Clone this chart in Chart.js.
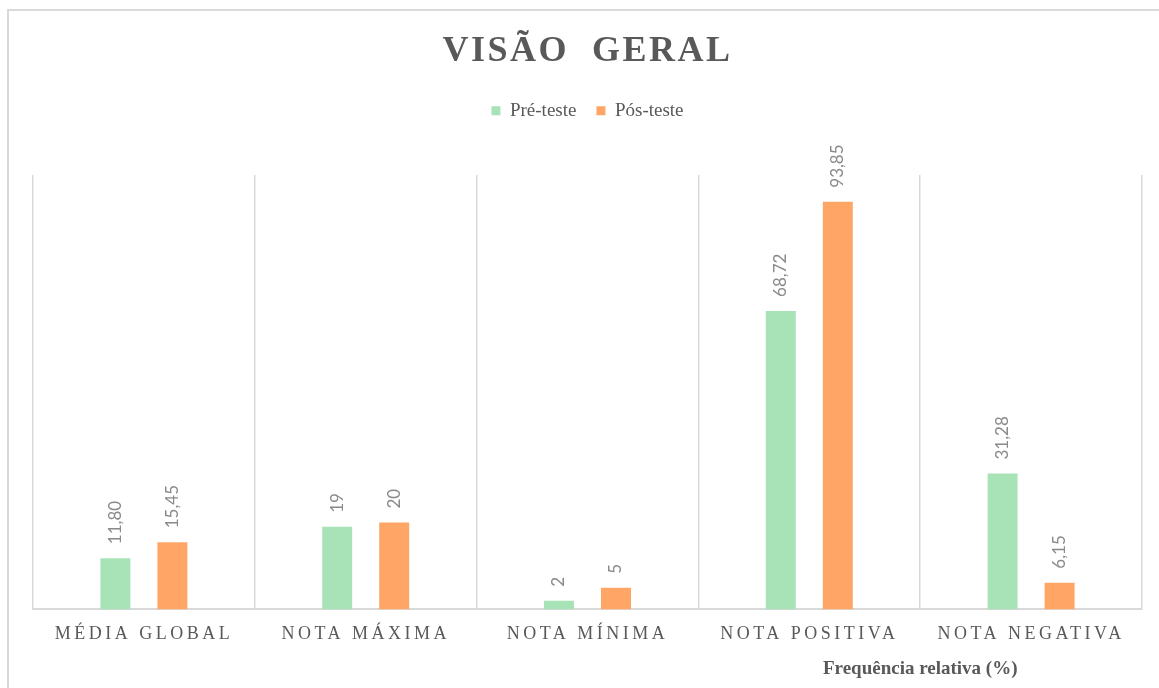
<!DOCTYPE html>
<html>
<head>
<meta charset="utf-8">
<script src="https://cdn.jsdelivr.net/npm/chart.js@4.4.1/dist/chart.umd.min.js"></script>
<style>
  html, body { margin: 0; padding: 0; background: #ffffff; overflow: hidden; }
  #frame { position: absolute; left: 7px; top: 9px; width: 1160px; height: 690px;
           border-left: 2px solid #d9d9d9; border-top: 2px solid #d9d9d9; }
  #c { display: block; }
</style>
</head>
<body>
<div id="frame"><canvas id="c" width="1158" height="677"></canvas></div>
<script>
// ---- data ----
const categories = ["MÉDIA GLOBAL", "NOTA MÁXIMA", "NOTA MÍNIMA", "NOTA POSITIVA", "NOTA NEGATIVA"];
const preTeste = [11.80, 19, 2, 68.72, 31.28];
const posTeste = [15.45, 20, 5, 93.85, 6.15];
const seriesNames = ["Pré-teste", "Pós-teste"];
const chartTitle = "VISÃO  GERAL";
const axisTitle = "Frequência relativa (%)";

const GREEN = '#A8E3B8';
const ORANGE = '#FFA666';
const TEXT = '#595959';

function fmt(v) {
  const s = Number.isInteger(v) ? String(v) : v.toFixed(2);
  return s.replace('.', ',');
}

const spacingPlugin = {
  id: 'spacing',
  beforeDraw(chart) {
    const wrap = (obj, method, sp) => {
      if (!obj || obj['_wrapped_' + method]) return;
      const orig = obj[method];
      obj[method] = function (...args) {
        const ctx = chart.ctx;
        const prev = ctx.letterSpacing;
        ctx.letterSpacing = sp;
        const r = orig.apply(this, args);
        ctx.letterSpacing = prev;
        return r;
      };
      obj['_wrapped_' + method] = true;
    };
    wrap(chart.scales.x, 'drawLabels', '3.5px');
    wrap(chart.titleBlock, 'draw', '2.5px');
  }
};

const dataLabelPlugin = {
  id: 'dataLabels',
  afterDatasetsDraw(chart) {
    const ctx = chart.ctx;
    chart.data.datasets.forEach((ds, di) => {
      const meta = chart.getDatasetMeta(di);
      meta.data.forEach((bar, i) => {
        ctx.save();
        ctx.translate(bar.x, bar.y - 14);
        ctx.rotate(-Math.PI / 2);
        ctx.font = '17px Lato';
        ctx.fillStyle = '#8a8a8a';
        ctx.textAlign = 'left';
        ctx.textBaseline = 'middle';
        ctx.fillText(fmt(ds.data[i]), 0, 0);
        ctx.restore();
      });
    });
  }
};

const axisTitlePlugin = {
  id: 'axisTitle',
  afterDraw(chart) {
    const x = chart.scales.x;
    const ctx = chart.ctx;
    ctx.save();
    ctx.font = 'bold 19px "Liberation Serif"';
    ctx.fillStyle = TEXT;
    ctx.textAlign = 'center';
    ctx.textBaseline = 'middle';
    ctx.fillText(axisTitle, x.getPixelForValue(3.5), x.bottom + 10);
    ctx.restore();
  }
};

new Chart(document.getElementById('c'), {
  type: 'bar',
  data: {
    labels: categories,
    datasets: [
      { label: seriesNames[0], data: preTeste, backgroundColor: GREEN,
        categoryPercentage: 0.514, barPercentage: 0.526 },
      { label: seriesNames[1], data: posTeste, backgroundColor: ORANGE,
        categoryPercentage: 0.514, barPercentage: 0.526 }
    ]
  },
  options: {
    responsive: false,
    animation: false,
    layout: { padding: { left: 24, right: 25, top: 0, bottom: 29 } },
    plugins: {
      title: {
        display: true, text: chartTitle, color: TEXT,
        font: { family: '"Liberation Serif"', size: 36, weight: 'bold' },
        padding: { top: 19, bottom: 8 }
      },
      subtitle: {
        display: true, text: ' ', weight: 500,
        font: { size: 1 }, padding: { top: 43.6, bottom: 0 }
      },
      legend: {
        display: true, position: 'top',
        labels: {
          color: TEXT, boxWidth: 9, boxHeight: 9, padding: 20,
          font: { family: '"Liberation Serif"', size: 19 }
        }
      },
      tooltip: { enabled: false }
    },
    scales: {
      x: {
        grid: { offset: true, color: '#d9d9d9', lineWidth: 1.5, drawTicks: false },
        border: { display: true, color: '#d9d9d9', width: 2 },
        ticks: {
          color: TEXT, padding: 14, maxRotation: 0, autoSkip: false,
          font: { family: '"Liberation Serif"', size: 18 }
        }
      },
      y: { display: false, min: 0, max: 100 }
    }
  },
  plugins: [spacingPlugin, dataLabelPlugin, axisTitlePlugin]
});
</script>
</body>
</html>
